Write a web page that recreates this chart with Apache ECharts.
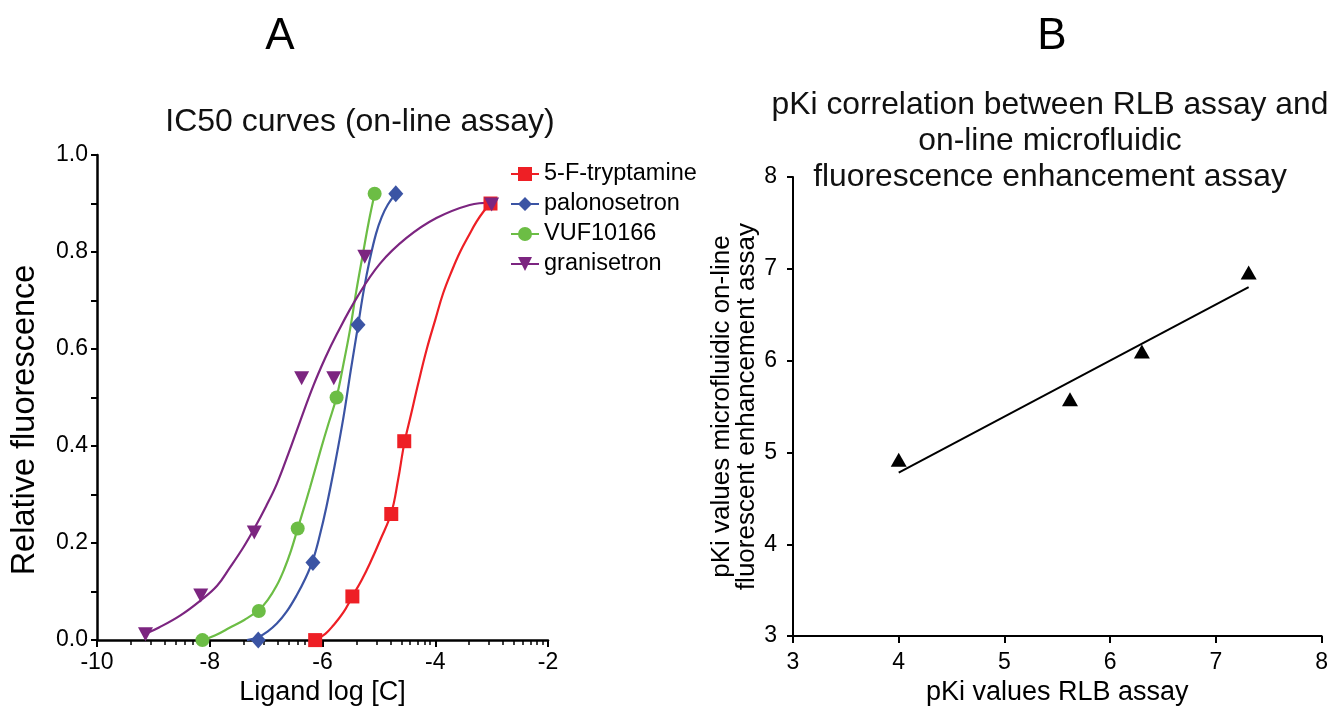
<!DOCTYPE html>
<html><head><meta charset="utf-8">
<script src="https://cdn.jsdelivr.net/npm/echarts@6/dist/echarts.min.js"></script>
<style>html,body{margin:0;padding:0;background:#fff}#c{width:1331px;height:711px}</style>
</head><body><div id="c"></div>
<script>
// ---------- Panel A data (log concentration, relative fluorescence) ----------
const compoundNames = ['5-F-tryptamine', 'palonosetron', 'VUF10166', 'granisetron'];
const compoundColors = ['#ee1f25', '#3b54a4', '#6cbd45', '#7c2580'];

const tryptaminePts   = [[-6.13, 0.0], [-5.47, 0.09], [-4.78, 0.26], [-4.55, 0.41], [-3.02, 0.90]];
const palonosetronPts = [[-7.14, 0.0], [-6.17, 0.16], [-5.37, 0.65], [-4.70, 0.92]];
const vufPts          = [[-8.13, 0.0], [-7.13, 0.06], [-6.44, 0.23], [-5.75, 0.50], [-5.075, 0.92]];
const granisetronPts  = [[-9.14, 0.012], [-8.16, 0.092], [-7.21, 0.222], [-6.37, 0.54], [-5.80, 0.54], [-5.25, 0.79], [-3.0, 0.898]];

// fitted curves
const tryptamineFit = [[-6.13, 0.0], [-5.95, 0.013], [-5.81, 0.030], [-5.63, 0.057], [-5.47, 0.090], [-5.30, 0.125], [-5.16, 0.158], [-4.97, 0.208], [-4.78, 0.262], [-4.66, 0.330], [-4.55, 0.405], [-4.43, 0.465], [-4.30, 0.530], [-4.15, 0.600], [-4.00, 0.660], [-3.86, 0.715], [-3.70, 0.763], [-3.56, 0.800], [-3.40, 0.835], [-3.27, 0.862], [-3.14, 0.884], [-3.02, 0.900]];
const palonosetronFit = [[-7.34, 0.0], [-7.14, 0.006], [-6.97, 0.018], [-6.81, 0.034], [-6.64, 0.058], [-6.46, 0.092], [-6.30, 0.128], [-6.17, 0.165], [-6.05, 0.215], [-5.93, 0.275], [-5.80, 0.350], [-5.63, 0.458], [-5.50, 0.555], [-5.37, 0.648], [-5.27, 0.720], [-5.16, 0.785], [-5.05, 0.838], [-4.95, 0.872], [-4.84, 0.898], [-4.70, 0.920]];
const vufFit = [[-8.13, 0.0], [-7.90, 0.010], [-7.64, 0.026], [-7.38, 0.042], [-7.13, 0.062], [-6.97, 0.083], [-6.81, 0.113], [-6.68, 0.146], [-6.56, 0.184], [-6.44, 0.230], [-6.33, 0.272], [-6.22, 0.315], [-6.04, 0.389], [-5.90, 0.444], [-5.75, 0.501], [-5.63, 0.568], [-5.51, 0.641], [-5.40, 0.720], [-5.28, 0.798], [-5.18, 0.862], [-5.075, 0.920]];
const granisetronFit = [[-9.14, 0.013], [-8.90, 0.026], [-8.52, 0.051], [-8.16, 0.082], [-7.87, 0.112], [-7.64, 0.150], [-7.40, 0.192], [-7.21, 0.230], [-7.00, 0.276], [-6.81, 0.322], [-6.60, 0.386], [-6.41, 0.447], [-6.16, 0.525], [-5.95, 0.582], [-5.75, 0.630], [-5.39, 0.706], [-4.98, 0.776], [-4.51, 0.829], [-3.98, 0.870], [-3.39, 0.897], [-3.0, 0.902]];

const yTicksA = [0.0, 0.2, 0.4, 0.6, 0.8, 1.0];
const xTicksA = [-10, -8, -6, -4, -2];
const minorMultipliers = [2, 3, 4, 5, 6, 7, 8, 9];

// ---------- Panel B data ----------
const pkiRLB    = [4.0, 5.62, 6.30, 7.31];
const pkiOnline = [4.92, 5.58, 6.10, 6.96];
const regressionLine = [[4.0, 4.78], [7.31, 6.80]];
const ticksB = [3, 4, 5, 6, 7, 8];

// ---------- build ----------
const FONT = '"Liberation Sans", Arial, Helvetica, sans-serif';
const minorTicksA = [];
for (let d = -10; d < -2; d += 2) minorMultipliers.forEach(k => minorTicksA.push(d + 2 * Math.log10(k)));

const ptsList = [tryptaminePts, palonosetronPts, vufPts, granisetronPts];
const fitList = [tryptamineFit, palonosetronFit, vufFit, granisetronFit];
const symbols = ['rect', 'diamond', 'circle', 'triangle'];
const symSizes = [14, [15, 17], 14, [15, 14]];
const symRot = [0, 0, 0, 180];
const legendIcons = [
  'path://M0,6H28V8H0Z M7,0H21V14H7Z',
  'path://M0,6H28V8H0Z M14,0L21,7L14,14L7,7Z',
  'path://M0,6H28V8H0Z M7,7A7,7 0 1,1 21,7A7,7 0 1,1 7,7Z',
  'path://M0,6H28V8H0Z M7,0H21L14,14Z'
];

const series = [];
compoundNames.forEach((n, i) => {
  series.push({
    name: n, type: 'line', xAxisIndex: 0, yAxisIndex: 0,
    data: fitList[i], smooth: 0.4, showSymbol: false, symbol: 'none',
    lineStyle: { color: compoundColors[i], width: 2.2 }, itemStyle: { color: compoundColors[i] },
    z: 2, silent: true, animation: false
  });
});
compoundNames.forEach((n, i) => {
  series.push({
    name: n, type: 'scatter', xAxisIndex: 0, yAxisIndex: 0,
    data: ptsList[i], symbol: symbols[i], symbolSize: symSizes[i], symbolRotate: symRot[i],
    itemStyle: { color: compoundColors[i], opacity: 1 }, z: 3, animation: false
  });
});
series.push({
  type: 'scatter', xAxisIndex: 2, yAxisIndex: 1,
  data: pkiRLB.map((v, i) => [v, pkiOnline[i]]),
  symbol: 'triangle', symbolSize: [16, 14], itemStyle: { color: '#000', opacity: 1 }, z: 3, animation: false
});
series.push({
  type: 'line', xAxisIndex: 2, yAxisIndex: 1, data: regressionLine,
  showSymbol: false, symbol: 'none', lineStyle: { color: '#000', width: 2 }, z: 2, animation: false
});

const axisText = { color: '#000', fontSize: 23, fontFamily: FONT };

const option = {
  backgroundColor: '#fff',
  animation: false,
  textStyle: { fontFamily: FONT },
  grid: [
    { left: 97, top: 155, width: 451, height: 488 },
    { left: 793, top: 177, width: 534, height: 460 }
  ],
  legend: {
    orient: 'vertical', left: 506, top: 157, itemWidth: 28, itemHeight: 14, itemGap: 6,
    textStyle: { color: '#000', fontSize: 23.5, fontFamily: FONT },
    data: compoundNames.map((n, i) => ({ name: n, icon: legendIcons[i], itemStyle: { color: compoundColors[i] } })),
    selectedMode: false
  },
  xAxis: [
    {
      gridIndex: 0, type: 'value', min: -10, max: -2, interval: 2, position: 'bottom',
      name: 'Ligand log [C]', nameLocation: 'middle', nameGap: 34,
      nameTextStyle: { color: '#000', fontSize: 27, fontFamily: FONT },
      axisLine: { show: true, onZero: false, lineStyle: { color: '#000', width: 2.5 } },
      axisTick: { show: true, length: 7, lineStyle: { color: '#000', width: 2 } },
      axisLabel: Object.assign({ margin: 11, formatter: v => String(v) }, axisText),
      splitLine: { show: false }
    },
    {
      gridIndex: 0, type: 'value', min: -10, max: -2, position: 'bottom',
      axisLine: { show: false }, axisLabel: { show: false }, splitLine: { show: false },
      axisTick: { show: true, length: 5, customValues: minorTicksA, lineStyle: { color: '#000', width: 1.5 } }
    },
    {
      gridIndex: 1, type: 'value', min: 3, max: 8, interval: 1, position: 'bottom',
      name: 'pKi values RLB assay', nameLocation: 'middle', nameGap: 40,
      nameTextStyle: { color: '#000', fontSize: 27, fontFamily: FONT },
      axisLine: { show: true, onZero: false, lineStyle: { color: '#000', width: 2 } },
      axisTick: { show: true, length: 7, lineStyle: { color: '#000', width: 2 } },
      axisLabel: Object.assign({ margin: 15 }, axisText),
      splitLine: { show: false }
    }
  ],
  yAxis: [
    {
      gridIndex: 0, type: 'value', min: 0, max: 1, interval: 0.1,
      axisLine: { show: true, onZero: false, lineStyle: { color: '#000', width: 2.5 } },
      axisTick: { show: true, length: 6, lineStyle: { color: '#000', width: 2 } },
      axisLabel: Object.assign({ margin: 9, customValues: yTicksA, formatter: v => v.toFixed(1) }, axisText),
      splitLine: { show: false }
    },
    {
      gridIndex: 1, type: 'value', min: 3, max: 8, interval: 1,
      name: 'pKi values microfluidic on-line\nfluorescent enhancement assay', nameLocation: 'middle', nameGap: 31,
      nameTextStyle: { color: '#000', fontSize: 26, lineHeight: 25, fontFamily: FONT },
      axisLine: { show: true, onZero: false, lineStyle: { color: '#000', width: 2 } },
      axisTick: { show: true, length: 6, lineStyle: { color: '#000', width: 2 } },
      axisLabel: Object.assign({ margin: 16 }, axisText),
      splitLine: { show: false }
    }
  ],
  graphic: [
    { type: 'text', x: 280, y: 37, style: { text: 'A', font: '44px ' + FONT, fill: '#000', textAlign: 'center', textVerticalAlign: 'middle' } },
    { type: 'text', x: 1052, y: 37, style: { text: 'B', font: '44px ' + FONT, fill: '#000', textAlign: 'center', textVerticalAlign: 'middle' } },
    { type: 'text', x: 360, y: 122, style: { text: 'IC50 curves (on-line assay)', font: '32px ' + FONT, fill: '#111', textAlign: 'center', textVerticalAlign: 'middle' } },
    { type: 'text', x: 1050, y: 141, style: { text: 'pKi correlation between RLB assay and\non-line microfluidic\nfluorescence enhancement assay', font: '31.8px ' + FONT, lineHeight: 36, fill: '#111', textAlign: 'center', textVerticalAlign: 'middle' } },
    { type: 'text', x: 25, y: 420, rotation: Math.PI / 2, style: { text: 'Relative fluorescence', font: '32.5px ' + FONT, fill: '#000', textAlign: 'center', textVerticalAlign: 'middle' } }
  ],
  series: series
};

const chart = echarts.init(document.getElementById('c'), null, { renderer: 'canvas' });
chart.setOption(option);
</script>
</body></html>
